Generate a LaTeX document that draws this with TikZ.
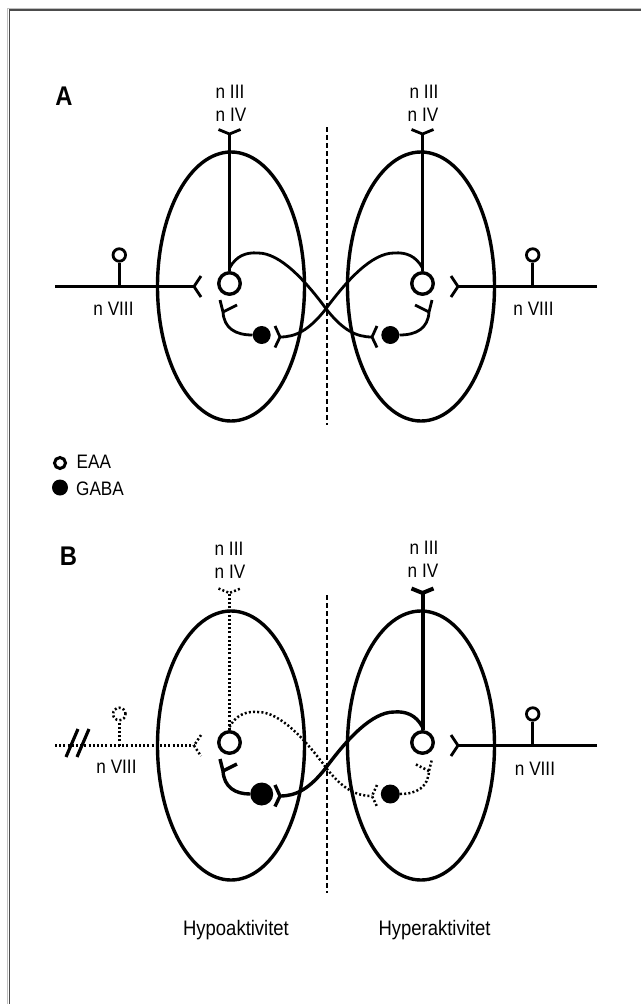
\documentclass[tikz,border=0pt]{standalone}
\usepackage{fontspec}
\setmainfont[FakeStretch=0.88]{Liberation Sans}

% One half of the vestibulo-ocular circuit, drawn for the left side.
% #1 name prefix, #2 style of the nIII/nIV axon, #3 style of nVIII,
% #4 style of the commissural axon, #5 style of the inhibitory axon,
% #6 size of the GABA cell, #7 side of the GABA cell facing its own EAA cell
\newcommand\halfcircuit[7]{%
  \draw[nucleus] (231,286.5) ellipse [x radius=73.5pt, y radius=134.5pt];
  \node[eaa] (#1e) at (229.5,283.5) {};
  \node[gaba=#6] (#1g) at (261.7,335) {};
  % output to the oculomotor nuclei
  \coordinate (#1f) at (229.5,134);
  \draw[#2] (#1e.north) -- (#1f);
  \draw[#2] (218.5,129.5) -- (#1f) -- (240.5,129.5);
  % vestibular nerve input
  \coordinate (#1v) at (194,286.5);
  \draw[#3] (55,286.5) -- (#1v);
  \draw[#3] (201,276) -- (#1v) -- (201,297);
  \node[bulb,#3] (#1b) at (119.3,255) {};
  \draw[#3] (119.3,286.5) -- (#1b.south);
  % commissural axon to the contralateral GABA cell
  \coordinate (#1c) at (372,337);
  \draw[#4] ([yshift=3pt]#1e.north) .. controls (236,256) and (246,252) .. (258,253)
        .. controls (280,253) and (305,280) .. (327,310)
        .. controls (343,330) and (356,337) .. (#1c);
  \draw[#4] (377,326) -- (#1c) -- (377,347.5);
  % inhibitory axon back to the EAA cell
  \draw[#5] (#1g.#7) .. controls (235,335) and (224,328) .. (223,312) -- (220,300);
  \draw[#5] (223,312) -- (237,305);
}

\begin{document}
\begin{tikzpicture}[x=1pt,y=-1pt,
  ax/.style={line width=2.8pt},
  axthick/.style={line width=3.4pt},
  axheavy/.style={line width=4pt},
  axdot/.style={line width=2.5pt, dash pattern=on 2pt off 2.2pt},
  nucleus/.style={line width=3.4pt},
  midline/.style={line width=1.6pt, dash pattern=on 5pt off 3pt},
  eaa/.style={circle, draw, line width=3.4pt, minimum size=21.5pt, inner sep=0pt},
  gaba/.style={circle, fill, inner sep=0pt, minimum size=#1},
  gaba/.default=18pt,
  bulb/.style={circle, draw, minimum size=12.5pt, inner sep=0pt},
  lbl/.style={font=\fontsize{19.5}{22}\selectfont, inner sep=0pt, anchor=base},
  panel/.style={font=\fontsize{27}{30}\bfseries\selectfont, inner sep=0pt},
  frame/.style={line width=1.3pt, draw=black!70}]

\useasboundingbox (0,0) rectangle (641,1004);

% page frame
\draw[line width=0.8pt, draw=black!25] (7.5,1004) -- (7.5,8) -- (641,8);
\draw[frame] (9.5,1004) -- (9.5,10) -- (641,10);

% ---------------- panel A ----------------
\node[panel] (labA) at (64,96) {A};
\draw[midline] (327,127) -- (327,425);
\begin{scope}
  \halfcircuit{La}{ax}{ax}{ax}{ax}{18pt}{west}
\end{scope}
\begin{scope}[xshift=652pt, xscale=-1]
  \halfcircuit{Ra}{ax}{ax}{ax}{ax}{18pt}{east}
\end{scope}
\node[lbl] (laIII) at (230,98) {n III};
\node[lbl] (laIV)  at (231,121) {n IV};
\node[lbl] (raIII) at (424,98) {n III};
\node[lbl] (raIV)  at (423,121) {n IV};
\node[lbl] (laVIII) at (113.5,315) {n VIII};
\node[lbl] (raVIII) at (533.5,315) {n VIII};

% ---------------- legend ----------------
\node[circle, draw, line width=3pt, minimum size=11pt, inner sep=0pt] (legE) at (60,463) {};
\node[gaba=16pt] (legG) at (60,487.5) {};
\node[lbl, anchor=base west] (legEt) at (76.5,468.5) {EAA};
\node[lbl, anchor=base west] (legGt) at (76,495) {GABA};

% ---------------- panel B ----------------
\node[panel] (labB) at (68.5,556.5) {B};
\draw[midline] (327,595) -- (327,893);
\begin{scope}[yshift=-459pt]
  \halfcircuit{Lb}{axdot}{axdot}{axdot}{axthick}{23pt}{west}
  % interrupted vestibular nerve
  \draw[line width=3.2pt] (66,298) -- (78,270) (77,298) -- (89,270);
\end{scope}
\begin{scope}[yshift=-459pt, xshift=652pt, xscale=-1]
  \halfcircuit{Rb}{axheavy}{ax}{axthick}{axdot}{19pt}{east}
\end{scope}
\node[lbl] (lbIII) at (229,555) {n III};
\node[lbl] (lbIV)  at (230,578) {n IV};
\node[lbl] (rbIII) at (424,554) {n III};
\node[lbl] (rbIV)  at (423,577) {n IV};
\node[lbl] (lbVIII) at (116.5,773) {n VIII};
\node[lbl] (rbVIII) at (535,775) {n VIII};

\node[lbl, font=\fontsize{21}{24}\selectfont] (hypo)  at (236,935) {Hypoaktivitet};
\node[lbl, font=\fontsize{21}{24}\selectfont] (hyper) at (434.5,935) {Hyperaktivitet};

\end{tikzpicture}
\end{document}
